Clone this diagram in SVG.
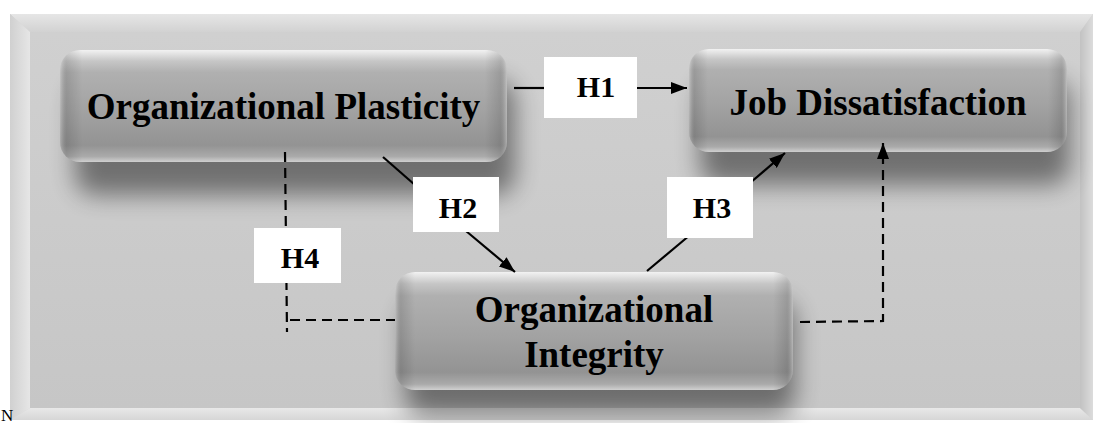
<svg xmlns="http://www.w3.org/2000/svg" width="1093" height="423" viewBox="0 0 1093 423">
<defs>
<style>
.nt{font-family:"Liberation Serif","Times New Roman",serif;font-weight:bold;font-size:37px;fill:#000;text-anchor:middle}
.ht{font-family:"Liberation Serif","Times New Roman",serif;font-weight:bold;font-size:30px;fill:#000;text-anchor:middle}
.lbl{fill:#fff}
.solid{fill:none;stroke:#000;stroke-width:2.2}
.dash{fill:none;stroke:#000;stroke-width:2.2;stroke-dasharray:10 6}
.face{fill:url(#nodeV)}
.side{fill:url(#nodeH)}
.shadow{fill:#000;opacity:0.45;filter:url(#blur)}
</style>
<linearGradient id="nodeV" x1="0" y1="0" x2="0" y2="1">
<stop offset="0" stop-color="#f2f2f2"/>
<stop offset="0.1" stop-color="#c6c6c6"/>
<stop offset="0.2" stop-color="#b0b0b0"/>
<stop offset="0.55" stop-color="#a2a2a2"/>
<stop offset="0.85" stop-color="#939393"/>
<stop offset="0.95" stop-color="#aaaaaa"/>
<stop offset="1" stop-color="#d0d0d0"/>
</linearGradient>
<linearGradient id="nodeH" x1="0" y1="0" x2="1" y2="0">
<stop offset="0" stop-color="#ffffff" stop-opacity="0.25"/>
<stop offset="0.015" stop-color="#000" stop-opacity="0.12"/>
<stop offset="0.05" stop-color="#000" stop-opacity="0"/>
<stop offset="0.95" stop-color="#000" stop-opacity="0"/>
<stop offset="0.985" stop-color="#000" stop-opacity="0.12"/>
<stop offset="1" stop-color="#ffffff" stop-opacity="0.25"/>
</linearGradient>
<linearGradient id="topBevel" x1="0" y1="0" x2="0" y2="1">
<stop offset="0" stop-color="#e6e6e6"/>
<stop offset="1" stop-color="#d2d2d2"/>
</linearGradient>
<linearGradient id="leftBevel" x1="0" y1="0" x2="1" y2="0">
<stop offset="0" stop-color="#d0d0d0"/>
<stop offset="1" stop-color="#e6e6e6"/>
</linearGradient>
<linearGradient id="rightBevel" x1="0" y1="0" x2="1" y2="0">
<stop offset="0" stop-color="#c2c2c2"/>
<stop offset="1" stop-color="#dcdcdc"/>
</linearGradient>
<linearGradient id="botBevel" x1="0" y1="0" x2="0" y2="1">
<stop offset="0" stop-color="#e8e8e8"/>
<stop offset="1" stop-color="#d6d6d6"/>
</linearGradient>
<linearGradient id="panelFace" x1="0" y1="0" x2="0" y2="1">
<stop offset="0" stop-color="#d0d0d0"/>
<stop offset="1" stop-color="#c6c6c6"/>
</linearGradient>
<filter id="blur" x="-20%" y="-50%" width="140%" height="200%">
<feGaussianBlur stdDeviation="12"/>
</filter>
<marker id="ah" viewBox="0 0 16 12" refX="16" refY="6" markerWidth="16" markerHeight="12" markerUnits="userSpaceOnUse" orient="auto">
<path d="M0,0 L16,6 L0,12 z" fill="#000"/>
</marker>
</defs>

<g id="panel">
<rect x="10" y="14" width="1090" height="406" fill="#d4d4d4"/>
<polygon points="10,14 1093,14 1080,32 30,32" fill="url(#topBevel)"/>
<polygon points="10,14 30,32 30,408 10,420" fill="url(#leftBevel)"/>
<polygon points="10,420 30,408 1080,408 1093,420" fill="url(#botBevel)"/>
<polygon points="1093,14 1080,32 1080,408 1093,420" fill="url(#rightBevel)"/>
<rect x="30" y="32" width="1050" height="376" fill="url(#panelFace)"/>
</g>

<text x="1" y="421" font-family="Liberation Serif, serif" font-size="17" fill="#000">N</text>

<g id="shadows">
<rect class="shadow" x="75" y="80" width="440" height="115" rx="20"/>
<rect class="shadow" x="700" y="80" width="370" height="105" rx="20"/>
<rect class="shadow" x="405" y="300" width="390" height="115" rx="20"/>
</g>

<g id="node-plasticity">
<rect class="face" x="60" y="50" width="447" height="112" rx="20"/>
<rect class="side" x="60" y="50" width="447" height="112" rx="20"/>
<text class="nt" x="283.5" y="119">Organizational Plasticity</text>
</g>

<g id="node-dissatisfaction">
<rect class="face" x="689" y="49" width="378" height="103" rx="20"/>
<rect class="side" x="689" y="49" width="378" height="103" rx="20"/>
<text class="nt" x="878" y="115">Job Dissatisfaction</text>
</g>

<g id="node-integrity">
<rect class="face" x="395" y="272" width="398" height="118" rx="20"/>
<rect class="side" x="395" y="272" width="398" height="118" rx="20"/>
<text class="nt" x="594" y="322">Organizational</text>
<text class="nt" x="594" y="367">Integrity</text>
</g>

<g id="connectors">
<line class="solid" x1="514" y1="88" x2="546" y2="88"/>
<line class="solid" x1="636" y1="88" x2="687" y2="88" marker-end="url(#ah)"/>
<line class="solid" x1="383" y1="157" x2="415" y2="185"/>
<line class="solid" x1="466" y1="231" x2="515" y2="272" marker-end="url(#ah)"/>
<line class="solid" x1="647" y1="271" x2="690" y2="235"/>
<line class="solid" x1="750" y1="183" x2="785" y2="153" marker-end="url(#ah)"/>
<path class="dash" d="M285,152 L287,332"/>
<path class="dash" d="M290,320 L395,320"/>
<path class="dash" d="M800,322 L883,321 L883,143" marker-end="url(#ah)"/>
</g>

<g id="label-h1">
<rect class="lbl" x="544" y="57" width="93" height="61"/>
<text class="ht" x="596" y="97">H1</text>
</g>
<g id="label-h2">
<rect class="lbl" x="413" y="177" width="86" height="55"/>
<text class="ht" x="458" y="218">H2</text>
</g>
<g id="label-h3">
<rect class="lbl" x="667" y="177" width="86" height="61"/>
<text class="ht" x="712" y="218">H3</text>
</g>
<g id="label-h4">
<rect class="lbl" x="254" y="228" width="87" height="55"/>
<text class="ht" x="300" y="268">H4</text>
</g>
</svg>
